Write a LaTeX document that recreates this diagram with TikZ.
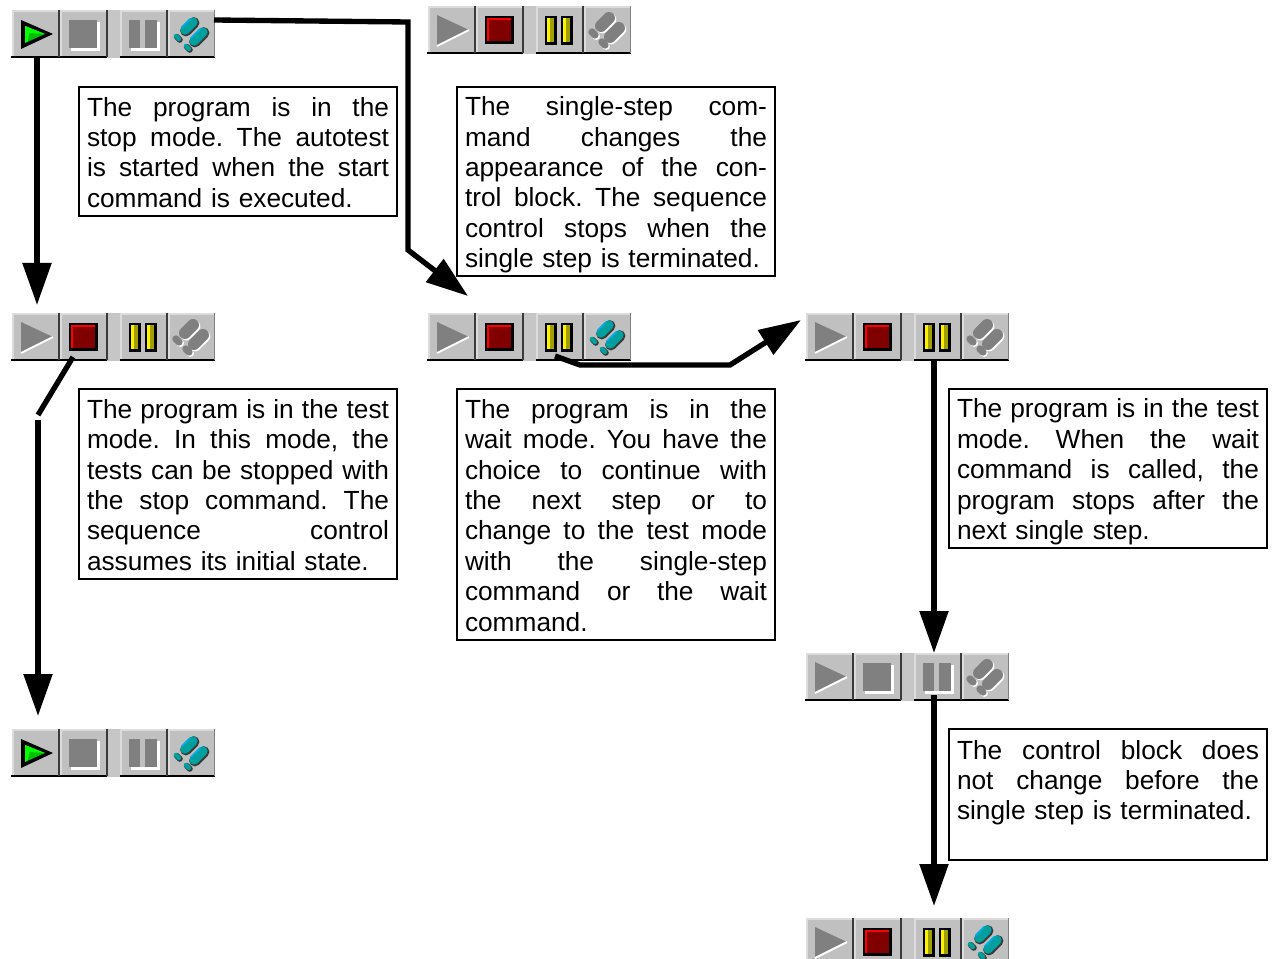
\documentclass[tikz,border=0pt]{standalone}
\usepackage{fontspec}
\setmainfont{Liberation Sans}
\usetikzlibrary{arrows.meta}
\hbadness=10000
\hfuzz=3pt
\definecolor{face}{HTML}{C0C0C0}
\definecolor{hilite}{HTML}{DCDCDC}
\definecolor{dimgray}{HTML}{808080}
\definecolor{dkred}{HTML}{800000}
\definecolor{dkyellow}{HTML}{A0A000}
\definecolor{teal2}{HTML}{00A0A0}
\definecolor{edgegray}{HTML}{3A3A3A}
\newcommand{\boxfont}{\fontsize{19.7}{22.8}\selectfont\frenchspacing}
\newcommand{\jl}[1]{\hbox to 226.5pt{\spaceskip=.278em plus 1fil minus .08em\relax\vphantom{Tg}#1}}
\newcommand{\el}[1]{\hbox{\vphantom{Tg}#1}}
\newcommand{\lns}[1]{\vbox{\kern5.25pt#1}}
\tikzset{
  x=0.75pt, y=-0.75pt,
  tbframe/.style={anchor=north west, inner sep=0pt, minimum width=153pt, minimum height=36pt},
  textbox/.style={draw=black, line width=1.5pt, anchor=north west, outer sep=0pt, inner xsep=6pt, inner ysep=0pt,
    text width=226.5pt, font=\boxfont},
  conn/.style={draw=black, line width=4pt, miter limit=10},
  arrowconn/.style={conn, -{Triangle[length=31.5pt,width=21pt]}},
}
\newcommand{\tbbutton}[1]{%
  \fill[face] (#1,0) rectangle ++(47,47);
  \fill[hilite] (#1,0) rectangle ++(47,2);
  \fill[hilite] (#1,0) rectangle ++(2,47);
}
\newcommand{\tbplay}[1]{%
  \ifnum#1=1
    \fill[black] (9,10) -- (41,24) -- (9,39) -- cycle;
    \fill[green!75!black] (13,16) -- (33,24) -- (13,33) -- cycle;
    \fill[green] (13,16) -- (33,24) -- (17,23) -- (16,31) -- (13,33) -- cycle;
  \else
    \fill[dimgray] (9,9) -- (41,24) -- (9,40) -- cycle;
    \draw[white, line width=1.5pt] (9,40) -- (41,24);
  \fi
}
\newcommand{\tbstop}[1]{%
  \ifnum#1=1
    \fill[black] (57,10) rectangle (86,38);
    \fill[red] (59,12) rectangle (83,35);
    \fill[dkred] (61,14) rectangle (83,35);
  \else
    \fill[white] (59,12) rectangle (88,41);
    \fill[dimgray] (57,10) rectangle (85,38);
  \fi
}
\newcommand{\tbpause}[1]{%
  \ifnum#1=1
    \fill[black] (117,10) rectangle (129,39);
    \fill[black] (133,10) rectangle (145,39);
    \fill[dkyellow] (119,12) rectangle (126,36);
    \fill[dkyellow] (135,12) rectangle (142,36);
    \fill[yellow] (119,12) rectangle (122,36);
    \fill[yellow] (135,12) rectangle (138,36);
  \else
    \fill[white] (135,12) rectangle (148,41);
    \fill[white] (119,38) rectangle (148,41);
    \fill[dimgray] (117,10) rectangle (128,38);
    \fill[dimgray] (133,10) rectangle (145,38);
  \fi
}
\newcommand{\tbcaps}[3]{%
  \draw[#1, line width=#2, line cap=round] (173,20) -- (181,12);
  \draw[#1, line width=#2, line cap=round] (182,31) -- (191,22);
  \draw[#1, line width=#3, line cap=round] (164,26) -- (167,29);
  \draw[#1, line width=#3, line cap=round] (174,36) -- (177,39);
}
\newcommand{\tbstep}[1]{%
  \ifnum#1=1
    \begin{scope}[shift={(0.8,0.8)}]\tbcaps{edgegray}{8.5pt}{4.5pt}\end{scope}
    \tbcaps{teal2}{7pt}{3.2pt}
    \draw[cyan, line width=1.2pt, line cap=round] (170,17) -- (178,9);
    \draw[cyan, line width=1.2pt, line cap=round] (179,28) -- (188,19);
  \else
    \begin{scope}[shift={(1.3,1.3)}]\tbcaps{white}{9pt}{5.5pt}\end{scope}
    \tbcaps{dimgray}{9pt}{5.5pt}
  \fi
}
% name, x, y, play, stop, pause, step
\newcommand{\toolbar}[7]{%
  \begin{scope}[shift={(#2,#3)}]
    \node[tbframe] (#1) at (0,0) {};
    \fill[face!90!white] (95,0) rectangle (108,48);
    \tbbutton{0}\tbbutton{48}\tbbutton{108}\tbbutton{156}
    \fill[black] (-1,46) rectangle (95,48);
    \fill[black] (108,46) rectangle (203,48);
    \fill[edgegray] (46,0) rectangle (48,47);
    \fill[edgegray] (94,0) rectangle (96,47);
    \fill[edgegray] (154,0) rectangle (156,47);
    \fill[dimgray] (202,0) rectangle (203,47);
    \tbplay{#4}\tbstop{#5}\tbpause{#6}\tbstep{#7}
    \coordinate (#1-p) at (25,46);
    \coordinate (#1-s) at (61,44);
    \coordinate (#1-w) at (127,43);
    \coordinate (#1-x) at (202,10);
  \end{scope}
}
\begin{document}
\begin{tikzpicture}
\useasboundingbox (0,0) rectangle (1275,959);
\fill[white] (0,0) rectangle (1275,959);
\clip (0,0) rectangle (1275,959);

\toolbar{tbA}{12}{10}{1}{0}{0}{1}
\toolbar{tbB}{428}{6}{0}{1}{1}{0}
\toolbar{tbC}{12}{313}{0}{1}{1}{0}
\toolbar{tbD}{428}{313}{0}{1}{1}{1}
\toolbar{tbE}{806}{313}{0}{1}{1}{0}
\toolbar{tbF}{12}{729}{1}{0}{0}{1}
\toolbar{tbG}{806}{653}{0}{0}{0}{0}
\toolbar{tbH}{806}{918}{0}{1}{1}{1}

\node[textbox, minimum height=96.75pt] (t1) at (79,87) {\lns{\jl{The program is in the}\jl{stop mode. The autotest}\jl{is started when the start}\el{command is executed.}}};
\node[textbox, minimum height=141.75pt] (t2) at (457,87) {\lns{\jl{The single-step com-}\jl{mand changes the}\jl{appearance of the con-}\jl{trol block. The sequence}\jl{control stops when the}\el{single step is terminated.}}};
\node[textbox, minimum height=142.5pt] (t3) at (79,389) {\lns{\jl{The program is in the test}\jl{mode. In this mode, the}\jl{tests can be stopped with}\jl{the stop command. The}\jl{sequence control}\el{assumes its initial state.}}};
\node[textbox, minimum height=188.25pt] (t4) at (457,389) {\lns{\jl{The program is in the}\jl{wait mode. You have the}\jl{choice to continue with}\jl{the next step or to}\jl{change to the test mode}\jl{with the single-step}\jl{command or the wait}\el{command.}}};
\node[textbox, minimum height=119.25pt] (t5) at (949,389) {\lns{\jl{The program is in the test}\jl{mode. When the wait}\jl{command is called, the}\jl{program stops after the}\el{next single step.}}};
\node[textbox, minimum height=98.25pt] (t6) at (949,729) {\lns{\jl{The control block does}\jl{not change before the}\el{single step is terminated.}\el{}}};

\coordinate (tipC) at (37,305);
\coordinate (tipF) at (38,716);
\coordinate (breakTop) at (38,415);
\coordinate (breakLow) at (38,420);
\coordinate (bendB1) at (408,22);
\coordinate (bendB2) at (408,250);
\coordinate (tipD) at (468,296);
\coordinate (bendE1) at (580,365);
\coordinate (bendE2) at (730,365);
\coordinate (tipE) at (801,320);
\coordinate (tipG) at (934,653);
\coordinate (tipH) at (934,906);
\coordinate (startG) at (934,360);
\coordinate (startH) at (934,695);
\coordinate (startE) at (555,356);

\draw[arrowconn] (tbA-p) -- (tipC);
\draw[arrowconn] (tbA-x) -- (bendB1) -- (bendB2) -- (tipD);
\draw[conn] (tbC-s) -- (breakTop);
\draw[arrowconn] (breakLow) -- (tipF);
\draw[arrowconn] (startE) -- (bendE1) -- (bendE2) -- (tipE);
\draw[arrowconn] (startG) -- (tipG);
\draw[arrowconn] (startH) -- (tipH);
\end{tikzpicture}
\end{document}
